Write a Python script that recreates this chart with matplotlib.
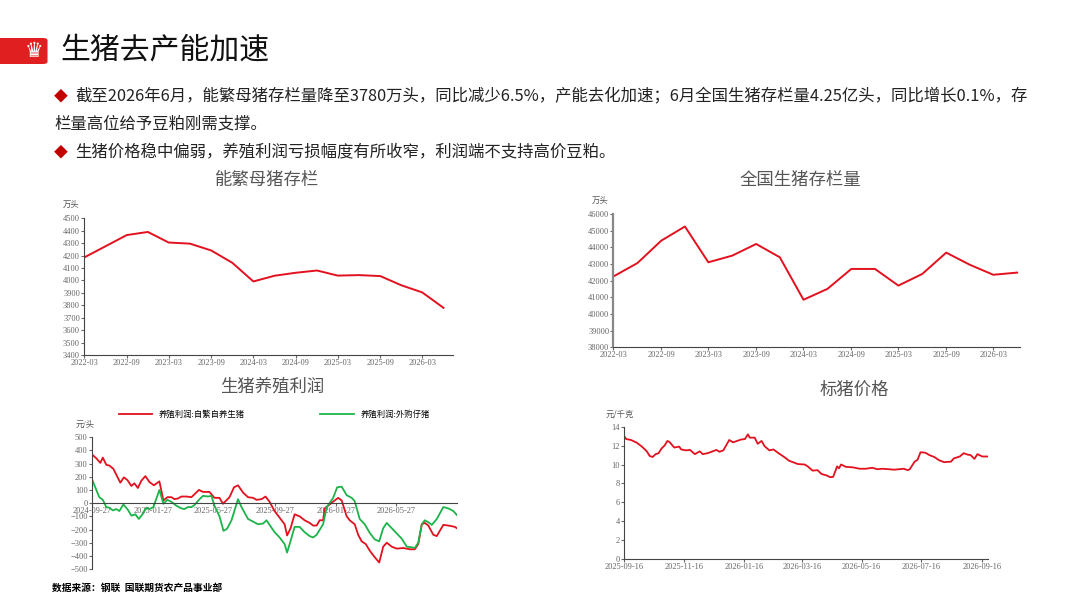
import numpy as np
import pandas as pd
import matplotlib.pyplot as plt
import matplotlib.dates as mdates
from matplotlib.patches import FancyBboxPatch

plt.rcParams['font.family'] = ['Noto Sans CJK SC', 'DejaVu Sans']
SERIF = ['Liberation Serif', 'Noto Sans CJK SC']

# ---- data ----
quarters = pd.date_range('2022-03-01', '2026-06-01', freq='3MS')
sows = [4185, 4275, 4365, 4390, 4305, 4296, 4241, 4142, 3992, 4038, 4062, 4080,
        4039, 4043, 4035, 3961, 3904, 3780]
hogs = [42250, 43050, 44400, 45250, 43100, 43500, 44200, 43400, 40850, 41500, 42700, 42700,
        41700, 42400, 43680, 42950, 42350, 42480]

red_days = [0, 9, 17, 22, 29, 35, 43, 51, 57, 64, 71, 79, 85, 92, 99, 107, 115, 124, 135, 143,
            151, 159, 165, 172, 179, 189, 199, 214, 222, 235, 245, 255, 262, 275, 284, 292, 302,
            312, 322, 329, 339, 347, 355, 365, 375, 385, 390, 397, 405, 415, 425, 435, 442, 449,
            455, 462, 465, 475, 485, 492, 499, 509, 515, 525, 532, 539, 547, 555, 565, 574, 582,
            589, 599, 609, 622, 635, 645, 652, 659, 665, 672, 682, 689, 695, 702, 712, 719, 725, 729]
red_vals = [370, 340, 305, 345, 290, 285, 260, 200, 155, 195, 175, 130, 150, 115, 170, 205, 160,
            135, 165, 20, 45, 45, 30, 35, 50, 50, 45, 100, 85, 85, 40, 40, -5, 45, 120, 135, 80,
            45, 40, 25, 30, 50, 10, -60, -110, -160, -245, -190, -85, -100, -130, -150, -170,
            -170, -130, -130, -40, -10, 20, 40, 20, -100, -130, -160, -240, -290, -310, -360,
            -410, -450, -330, -300, -330, -345, -340, -350, -350, -310, -160, -150, -170, -240,
            -250, -210, -165, -170, -175, -180, -190]
green_days = [0, 9, 15, 22, 29, 35, 42, 49, 55, 63, 72, 79, 87, 94, 102, 109, 115, 123, 135, 143,
              151, 159, 169, 179, 185, 192, 199, 205, 214, 222, 232, 239, 245, 255, 263, 270, 279,
              292, 299, 312, 322, 332, 342, 349, 355, 365, 375, 385, 390, 399, 405, 415, 425, 435,
              442, 449, 462, 469, 475, 482, 490, 499, 509, 519, 525, 535, 545, 555, 565, 574, 582,
              589, 599, 609, 619, 629, 639, 645, 652, 659, 665, 672, 679, 689, 702, 712, 722, 729]
green_vals = [185, 100, 45, 25, -30, -35, -55, -45, -60, -10, -50, -95, -85, -120, -80, -35, -45,
              -30, 100, -5, 25, 10, -20, -40, -45, -30, -30, -15, 25, 55, 50, 55, -20, -100, -210,
              -195, -130, 30, -30, -120, -140, -160, -155, -130, -165, -220, -260, -310, -375,
              -260, -180, -180, -220, -250, -260, -240, -160, -30, 0, 40, 120, 125, 60, 40, 15,
              -120, -160, -225, -275, -290, -190, -150, -190, -230, -270, -330, -335, -340, -300,
              -160, -130, -145, -165, -120, -30, -40, -60, -90]

price_days = [0, 2, 7, 13, 18, 23, 26, 29, 32, 35, 38, 41, 44, 46, 51, 56, 58, 63, 67, 72, 77, 80,
              85, 94, 97, 101, 107, 111, 119, 123, 126, 128, 133, 136, 140, 143, 148, 152, 158,
              163, 168, 177, 184, 187, 192, 197, 201, 206, 210, 213, 217, 219, 221, 226, 233, 240,
              246, 253, 258, 263, 270, 275, 280, 285, 289, 291, 296, 299, 302, 307, 311, 316, 321,
              326, 333, 336, 342, 346, 350, 353, 357, 360, 365, 370, 375, 377, 380]
price_vals = [13.0, 12.7, 12.6, 12.3, 11.9, 11.4, 10.9, 10.8, 11.1, 11.2, 11.7, 12.0, 12.5,
              12.4, 11.8, 11.9, 11.6, 11.5, 11.55, 11.1, 11.4, 11.1, 11.2, 11.55, 11.35, 11.5, 12.6,
              12.35, 12.65, 12.7, 13.2, 12.85, 12.85, 12.2, 12.5, 11.95, 11.5, 11.6, 11.15, 10.8,
              10.4, 10.05, 10.0, 9.8, 9.35, 9.4, 9.0, 8.85, 8.65, 8.7, 9.8, 9.6, 10.0, 9.75, 9.7,
              9.55, 9.55, 9.65, 9.5, 9.55, 9.5, 9.45, 9.5, 9.55, 9.4, 9.5, 10.3, 10.5, 11.3, 11.25,
              11.0, 10.8, 10.45, 10.25, 10.3, 10.65, 10.85, 11.2, 11.05, 11.0, 10.6, 11.1, 10.85,
              10.85, 10.75, 10.6, 10.6]
price_ticks = ['2025-09-16', '2025-11-16', '2026-01-16', '2026-03-16', '2026-05-16', '2026-07-16', '2026-09-16']

RED = '#e3101e'
GREEN = '#1db34a'
GREY = '#555555'

fig = plt.figure(figsize=(10.8, 6.08), dpi=100)

# ---- header ----
fig.patches.append(FancyBboxPatch((-0.01, 1 - 64 / 608), 0.054, 26 / 608, boxstyle='round,pad=0,rounding_size=0.004',
                                  transform=fig.transFigure, fc='#e02020', ec='none'))
fig.text(0.032, 1 - 51 / 608, '♛', color='white', fontsize=15, ha='center', va='center', family='DejaVu Sans')
fig.text(0.056, 1 - 50 / 608, '生猪去产能加速', fontsize=21.5, va='center', color='#111111')
lines = [('◆', '截至2026年6月，能繁母猪存栏量降至3780万头，同比减少6.5%，产能去化加速；6月全国生猪存栏量4.25亿头，同比增长0.1%，存', 96),
         ('', '栏量高位给予豆粕刚需支撑。', 124),
         ('◆', '生猪价格稳中偏弱，养殖利润亏损幅度有所收窄，利润端不支持高价豆粕。', 152)]
for mark, txt, y in lines:
    if mark:
        fig.text(0.05, 1 - y / 608, mark, color='#c00000', fontsize=10, va='center')
        fig.text(0.07, 1 - y / 608, txt, color='#222222', fontsize=11.8, va='center')
    else:
        fig.text(0.05, 1 - y / 608, txt, color='#222222', fontsize=11.8, va='center')
fig.text(0.048, 1 - 588 / 608, '数据来源：钢联  国联期货农产品事业部', fontsize=7, fontweight='bold', va='center')


def style(ax, fs=6):
    for s in ['top', 'right']:
        ax.spines[s].set_visible(False)
    ax.spines['left'].set_color('#444444')
    ax.spines['bottom'].set_color('#444444')
    ax.tick_params(labelsize=fs, colors='#666666', length=2, pad=1)
    for lab in ax.get_xticklabels() + ax.get_yticklabels():
        lab.set_family(SERIF)


# ---- chart 1 ----
ax1 = fig.add_axes([0.078, 0.416, 0.341, 0.225])
ax1.plot(quarters, sows, color=RED, lw=1.4)
ax1.set_ylim(3400, 4500)
ax1.set_yticks(range(3400, 4501, 100))
ax1.set_xlim(pd.Timestamp('2022-03-01'), pd.Timestamp('2026-07-10'))
ax1.xaxis.set_major_locator(mdates.MonthLocator(bymonth=[3, 9]))
ax1.xaxis.set_major_formatter(mdates.DateFormatter('%Y-%m'))
style(ax1)
fig.text(0.247, 1 - 180 / 608, '能繁母猪存栏', fontsize=12.5, color=GREY, ha='center', va='center')
fig.text(0.058, 1 - 204 / 608, '万头', fontsize=6, color=GREY, va='center')

# ---- chart 2 ----
ax2 = fig.add_axes([0.568, 0.429, 0.376, 0.219])
ax2.plot(quarters, hogs, color=RED, lw=1.4)
ax2.set_ylim(38000, 46000)
ax2.set_yticks(range(38000, 46001, 1000))
ax2.set_xlim(pd.Timestamp('2022-03-01'), pd.Timestamp('2026-06-10'))
ax2.xaxis.set_major_locator(mdates.MonthLocator(bymonth=[3, 9]))
ax2.xaxis.set_major_formatter(mdates.DateFormatter('%Y-%m'))
style(ax2)
ax2.spines['left'].set_linewidth(1.6)
ax2.spines['left'].set_color('#888888')
fig.text(0.741, 1 - 180 / 608, '全国生猪存栏量', fontsize=12.5, color=GREY, ha='center', va='center')
fig.text(0.548, 1 - 201 / 608, '万头', fontsize=6, color=GREY, va='center', family=SERIF)

# ---- chart 3 ----
start3 = pd.Timestamp('2024-09-27')
ax3 = fig.add_axes([0.085, 0.064, 0.338, 0.217])
ax3.plot(start3 + pd.to_timedelta(red_days, unit='D'), red_vals, color=RED, lw=1.3, label='养殖利润:自繁自养生猪')
ax3.plot(start3 + pd.to_timedelta(green_days, unit='D'), green_vals, color=GREEN, lw=1.3, label='养殖利润:外购仔猪')
ax3.set_ylim(-500, 500)
ax3.set_yticks(range(-500, 501, 100))
ax3.set_xlim(start3, start3 + pd.Timedelta(days=729))
ax3.set_xticks(pd.to_datetime(['2024-09-27', '2025-01-27', '2025-05-27', '2025-09-27', '2026-01-27', '2026-05-27']))
ax3.xaxis.set_major_formatter(mdates.DateFormatter('%Y-%m-%d'))
ax3.spines['bottom'].set_position(('data', 0))
style(ax3)
ax3.legend(loc='lower center', bbox_to_anchor=(0.5, 1.08), ncol=2, frameon=False,
           columnspacing=9, handlelength=4, prop={'family': SERIF, 'size': 6})
fig.text(0.252, 1 - 386 / 608, '生猪养殖利润', fontsize=12.5, color=GREY, ha='center', va='center')
fig.text(0.07, 1 - 425 / 608, '元/头', fontsize=6, color=GREY, va='center', family=SERIF)

# ---- chart 4 ----
start4 = pd.Timestamp('2025-09-16')
ax4 = fig.add_axes([0.578, 0.081, 0.337, 0.217])
ax4.plot(start4 + pd.to_timedelta(price_days, unit='D'), price_vals, color=RED, lw=1.3)
ax4.set_ylim(0, 14)
ax4.set_yticks(range(0, 15, 2))
ax4.set_xlim(start4, start4 + pd.Timedelta(days=371))
ax4.set_xticks(pd.to_datetime(price_ticks))
ax4.xaxis.set_major_formatter(mdates.DateFormatter('%Y-%m-%d'))
style(ax4)
fig.text(0.791, 1 - 390 / 608, '标猪价格', fontsize=12.5, color=GREY, ha='center', va='center')
fig.text(0.561, 1 - 414 / 608, '元/千克', fontsize=6, color=GREY, va='center')

fig.savefig('out.png', dpi=100)
